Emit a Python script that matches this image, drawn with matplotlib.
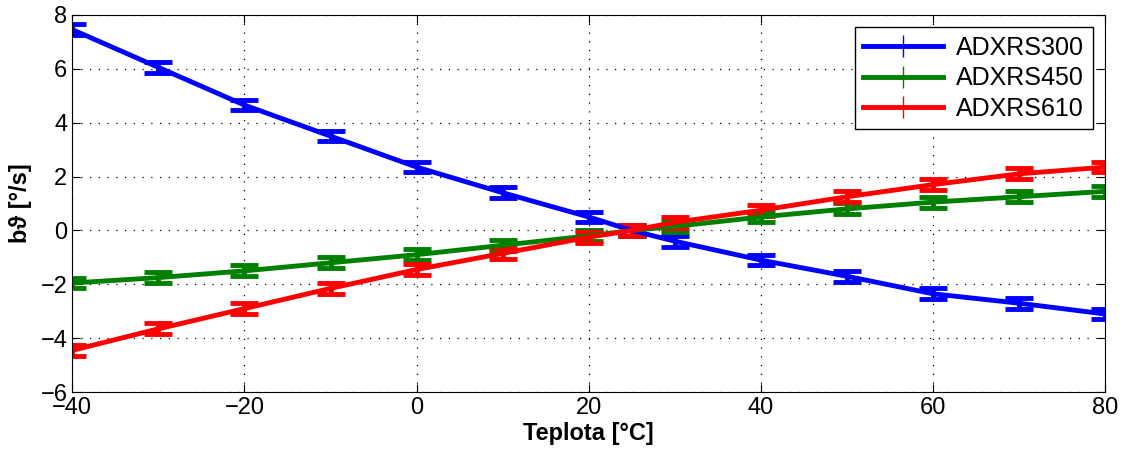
import matplotlib
matplotlib.use("Agg")
import matplotlib.pyplot as plt
from matplotlib.lines import Line2D

plt.rcParams['font.family'] = ['Liberation Sans', 'DejaVu Sans']

# Temperature points [°C]
teplota = [-40, -30, -20, -10, 0, 10, 20, 25, 30, 40, 50, 60, 70, 80]

# Bias drift values [°/s]
adxrs300 = [7.45, 6.05, 4.65, 3.5, 2.35, 1.4, 0.5, 0.0, -0.4, -1.1, -1.7, -2.35, -2.7, -3.1]
adxrs450 = [-1.95, -1.75, -1.5, -1.2, -0.9, -0.55, -0.2, 0.0, 0.15, 0.5, 0.8, 1.05, 1.25, 1.45]
adxrs610 = [-4.45, -3.65, -2.9, -2.15, -1.45, -0.85, -0.25, 0.0, 0.3, 0.75, 1.25, 1.7, 2.1, 2.35]

# error bar half-width
err = 0.2

series = [("ADXRS300", adxrs300, "#0000ff"),
          ("ADXRS450", adxrs450, "#008000"),
          ("ADXRS610", adxrs610, "#ff0000")]

fig = plt.figure(figsize=(11.3, 4.63), dpi=100)
ax = fig.add_axes([0.064, 0.153, 0.914, 0.815])

handles = []
for name, vals, col in series:
    ax.errorbar(teplota, vals, yerr=err, color=col, lw=3.5, elinewidth=3.5,
                capsize=10, capthick=3.5)
    # legend shows line with a thin "+" marker, as in the original
    handles.append(Line2D([], [], color=col, lw=3.5, marker="|",
                          markersize=16, markeredgewidth=1))

ax.set_xlim(-40, 80)
ax.set_ylim(-6, 8)
ax.set_xticks(range(-40, 81, 20))
ax.set_yticks(range(-6, 9, 2))
ax.set_xticklabels(["\u2212" + str(-t) if t < 0 else str(t) for t in range(-40, 81, 20)])
ax.set_yticklabels(["\u2212" + str(-t) if t < 0 else str(t) for t in range(-6, 9, 2)])
ax.tick_params(direction="in", labelsize=17, length=6, top=True, right=True)
ax.grid(True, color="black", linestyle=(0, (1, 6)), linewidth=0.9)

ax.set_xlabel("Teplota [°C]", fontsize=17, fontweight="bold", labelpad=2)
ax.set_ylabel("b\u03d1 [°/s]", fontsize=17, fontweight="bold", labelpad=6)

leg = ax.legend(handles, [s[0] for s in series], loc="upper right", fontsize=18,
                fancybox=False, framealpha=1, edgecolor="black",
                handlelength=3.2, borderaxespad=0.5, labelspacing=0.25,
                handletextpad=0.5, borderpad=0.35)
leg.get_frame().set_linewidth(1)

plt.savefig("out.png", dpi=100)
